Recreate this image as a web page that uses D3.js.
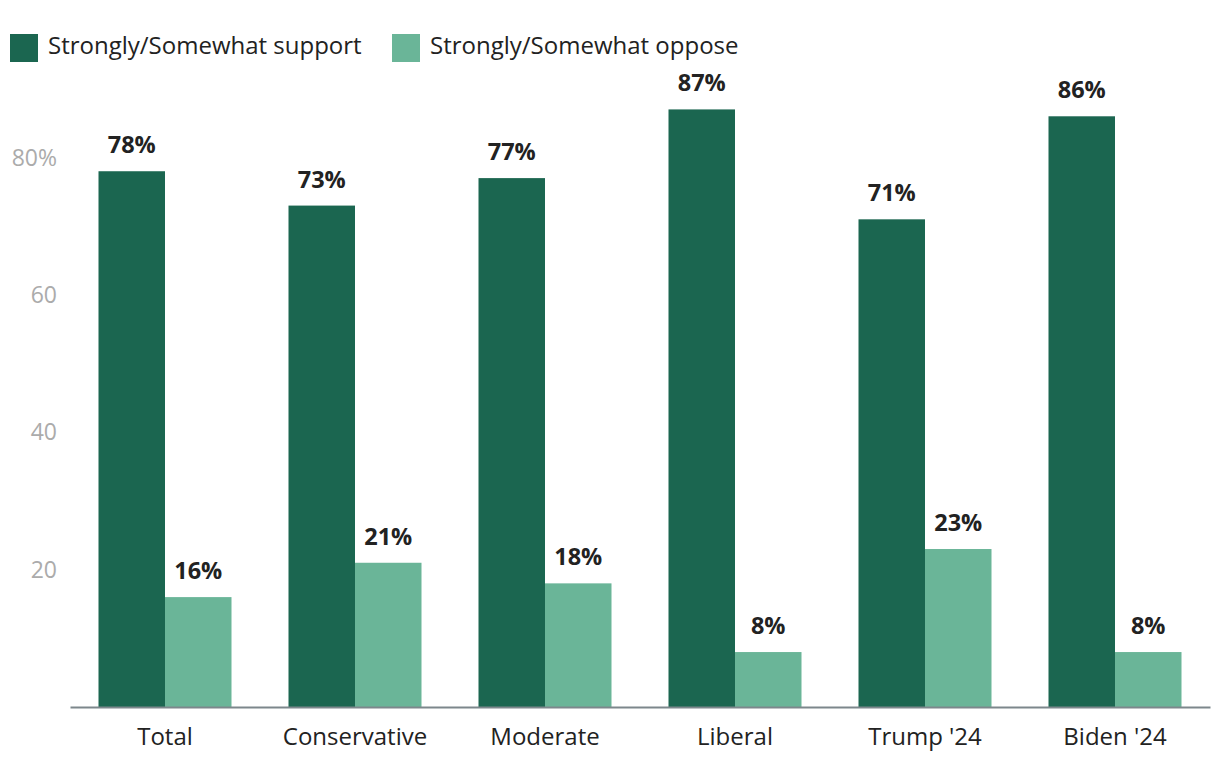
<!DOCTYPE html>
<html>
<head>
<meta charset="utf-8">
<script src="https://cdn.jsdelivr.net/npm/d3@7"></script>
<style>
  html, body { margin: 0; padding: 0; background: #fff; }
  svg { display: block; font-family: "Open Sans", sans-serif; }
</style>
</head>
<body>
<svg id="chart" width="1220" height="772"></svg>
<script>
const categories = ["Total", "Conservative", "Moderate", "Liberal", "Trump '24", "Biden '24"];
const seriesNames = ["Strongly/Somewhat support", "Strongly/Somewhat oppose"];
const support = [78, 73, 77, 87, 71, 86];
const oppose = [16, 21, 18, 8, 23, 8];
const yTicks = [20, 40, 60, 80];
const colors = ["#1b6650", "#6ab598"];

const svg = d3.select("#chart");
const x0 = d3.scaleBand().domain(categories).range([70, 1210]).paddingInner(0.3).paddingOuter(0.15);
const x1 = d3.scaleBand().domain([0, 1]).range([0, x0.bandwidth()]);
const y = d3.scaleLinear().domain([0, 80]).range([707, 157.5]);

// y tick labels
svg.append("g").selectAll("text").data(yTicks).join("text")
  .attr("x", 57).attr("y", d => y(d)).attr("dy", "0.35em")
  .attr("text-anchor", "end").attr("font-size", 23).attr("fill", "#ababab")
  .text(d => d === 80 ? d + "%" : d);

const series = [support, oppose];
const g = svg.append("g");
categories.forEach((c, i) => {
  series.forEach((s, k) => {
    const bx = x0(c) + x1(k);
    g.append("rect")
      .attr("x", bx).attr("y", y(s[i]))
      .attr("width", x1.bandwidth()).attr("height", y(0) - y(s[i]))
      .attr("fill", colors[k]);
    g.append("text")
      .attr("x", bx + x1.bandwidth() / 2).attr("y", y(s[i]) - 18)
      .attr("text-anchor", "middle").attr("font-size", 23.5).attr("font-weight", 700)
      .attr("fill", "#222").text(s[i] + "%");
  });
});

// x axis
const xAxis = svg.append("g").attr("transform", `translate(0,${y(0)})`)
  .call(d3.axisBottom(x0).tickSize(0).tickPadding(21).tickSizeOuter(0));
xAxis.select(".domain").attr("stroke", "#7d878c").attr("stroke-width", 2);
xAxis.selectAll("text").attr("font-size", 24).attr("fill", "#222").attr("font-family", "Open Sans, sans-serif");

// legend
const legendX = [10, 392];
seriesNames.forEach((n, k) => {
  svg.append("rect").attr("x", legendX[k]).attr("y", 34).attr("width", 28).attr("height", 28).attr("fill", colors[k]);
  svg.append("text").attr("x", legendX[k] + 38).attr("y", 46).attr("dy", "0.35em")
    .attr("font-size", 24).attr("fill", "#222").text(n);
});
</script>
</body>
</html>
